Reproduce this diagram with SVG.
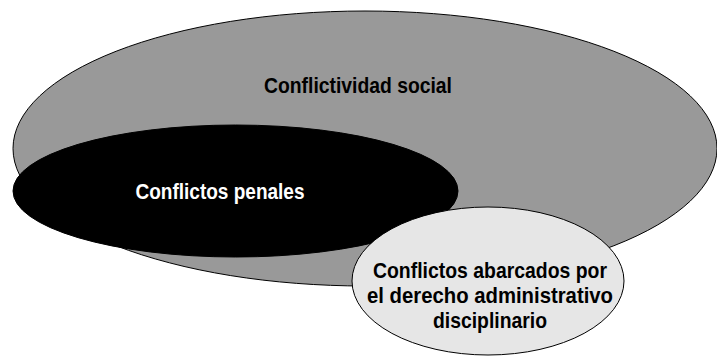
<svg xmlns="http://www.w3.org/2000/svg" width="717" height="356" viewBox="0 0 717 356">
<style>
.shape{stroke:#000;stroke-width:1}
.lbl{font-family:"Liberation Sans",Arial,sans-serif;font-weight:bold;font-size:22px;text-anchor:middle}
</style>
<rect width="717" height="356" fill="#fff"/>
<g id="node-social">
<ellipse class="shape" cx="365" cy="148.5" rx="352" ry="137.5" fill="#999999"/>
<text class="lbl" x="358" y="93" fill="#000" textLength="188" lengthAdjust="spacingAndGlyphs">Conflictividad social</text>
</g>
<g id="node-penales">
<ellipse class="shape" cx="235.5" cy="191" rx="222.5" ry="66" fill="#000"/>
<text class="lbl" x="220" y="199" fill="#fff" textLength="169" lengthAdjust="spacingAndGlyphs">Conflictos penales</text>
</g>
<g id="node-admin">
<ellipse class="shape" cx="488" cy="281" rx="136" ry="74" fill="#e6e6e6"/>
<text class="lbl" x="490" y="278" fill="#000" textLength="234" lengthAdjust="spacingAndGlyphs">Conflictos abarcados por</text>
<text class="lbl" x="490" y="303" fill="#000" textLength="246" lengthAdjust="spacingAndGlyphs">el derecho administrativo</text>
<text class="lbl" x="490" y="328" fill="#000" textLength="114" lengthAdjust="spacingAndGlyphs">disciplinario</text>
</g>
<g id="connectors"></g>
</svg>
